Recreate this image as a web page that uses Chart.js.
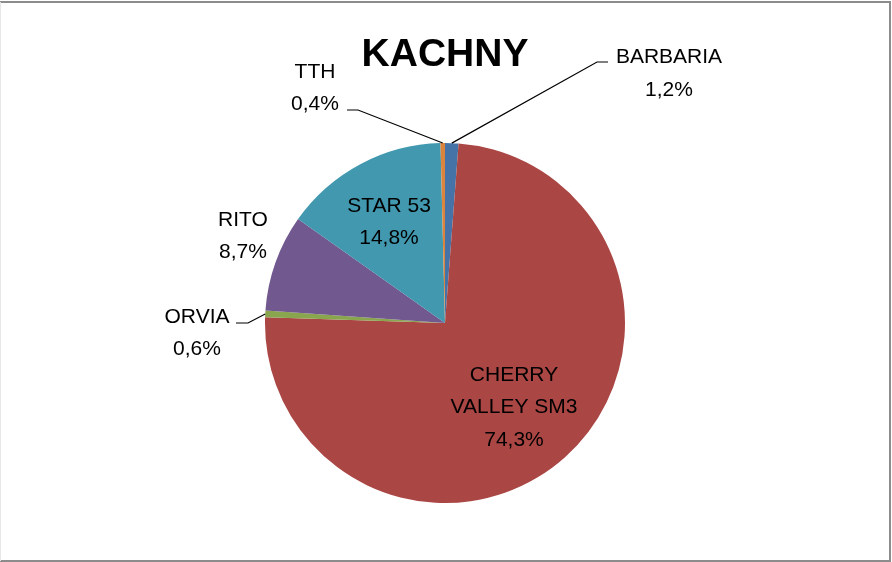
<!DOCTYPE html>
<html>
<head>
<meta charset="utf-8">
<script src="https://cdn.jsdelivr.net/npm/chart.js@4/dist/chart.umd.min.js"></script>
<style>
    html, body { margin: 0; padding: 0; background: #fff; }
    canvas { display: block; }
</style>
</head>
<body>
<canvas id="kachnyChart" width="892" height="562"></canvas>
<script>
// --- Data ---
const categories = ['BARBARIA', 'CHERRY VALLEY SM3', 'ORVIA', 'RITO', 'STAR 53', 'TTH'];
const shares = [1.2, 74.3, 0.6, 8.7, 14.8, 0.4];
const sliceColors = ['#4572A7', '#AA4644', '#89A54E', '#71588F', '#4198AF', '#DB843D'];

// label text lines per slice (name split where the original wraps)
const labelLines = [
    ['BARBARIA'],
    ['CHERRY', 'VALLEY SM3'],
    ['ORVIA'],
    ['RITO'],
    ['STAR 53'],
    ['TTH']
];

const fmtPct = v => v.toFixed(1).replace('.', ',') + '%';

// --- Label placement (cap-centre of first line, optional leader elbow) ---
const labelLayout = [
    { x: 669, y: 55.5, elbow: [597, 62], end: [608, 62] },
    { x: 514, y: 373 },
    { x: 197, y: 315, elbow: [248, 323], end: [236, 323] },
    { x: 243, y: 218 },
    { x: 389, y: 204 },
    { x: 315, y: 70, elbow: [358, 110], end: [347, 110] }
];

// --- Plugins ---
const frameBorder = {
    id: 'frameBorder',
    beforeDraw(chart) {
        const ctx = chart.ctx;
        ctx.save();
        ctx.fillStyle = '#fff';
        ctx.fillRect(0, 0, chart.width, chart.height);
        ctx.strokeStyle = '#8c8c8c';
        ctx.lineWidth = 2;
        ctx.beginPath();
        ctx.moveTo(0, 2);
        ctx.lineTo(890, 2);
        ctx.lineTo(890, 561);
        ctx.lineTo(0, 561);
        ctx.stroke();
        ctx.strokeStyle = '#e6e6e6';
        ctx.lineWidth = 1;
        ctx.beginPath();
        ctx.moveTo(0.5, 2);
        ctx.lineTo(0.5, 561);
        ctx.stroke();
        ctx.restore();
    }
};

const sliceLabels = {
    id: 'sliceLabels',
    afterDatasetsDraw(chart) {
        const ctx = chart.ctx;
        const arcs = chart.getDatasetMeta(0).data;
        const fontSize = 21;
        const lineGap = 32.5;
        ctx.save();
        ctx.font = fontSize + 'px "Liberation Sans", Arial, sans-serif';
        ctx.fillStyle = '#000';
        ctx.textAlign = 'center';
        ctx.textBaseline = 'alphabetic';

        arcs.forEach((arc, i) => {
            const pos = labelLayout[i];
            const lines = labelLines[i].concat(fmtPct(shares[i]));

            lines.forEach((line, j) => {
                ctx.fillText(line, pos.x, pos.y + j * lineGap + 0.358 * fontSize);
            });

            // leader line from the slice edge
            if (pos.elbow) {
                const { x, y, startAngle, endAngle, outerRadius } = arc.getProps(['x', 'y', 'startAngle', 'endAngle', 'outerRadius'], true);
                const mid = (startAngle + endAngle) / 2;
                const ex = x + Math.cos(mid) * outerRadius;
                const ey = y + Math.sin(mid) * outerRadius;
                ctx.strokeStyle = '#000';
                ctx.lineWidth = 1.2;
                ctx.beginPath();
                ctx.moveTo(ex, ey);
                ctx.lineTo(pos.elbow[0], pos.elbow[1]);
                ctx.lineTo(pos.end[0], pos.end[1]);
                ctx.stroke();
            }
        });
        ctx.restore();
    }
};

// --- Chart ---
new Chart(document.getElementById('kachnyChart'), {
    type: 'pie',
    data: {
        labels: categories,
        datasets: [{
            data: shares,
            backgroundColor: sliceColors,
            borderWidth: 0
        }]
    },
    options: {
        responsive: false,
        animation: false,
        layout: {
            padding: { top: 10, left: 265, right: 267, bottom: 59 }
        },
        plugins: {
            legend: { display: false },
            tooltip: { enabled: false },
            title: {
                display: true,
                text: 'KACHNY',
                color: '#000',
                font: { family: '"Liberation Sans", Arial, sans-serif', size: 39, weight: 'bold', lineHeight: 1.2 },
                padding: { top: 22, bottom: 64.2 }
            }
        }
    },
    plugins: [frameBorder, sliceLabels]
});
</script>
</body>
</html>
